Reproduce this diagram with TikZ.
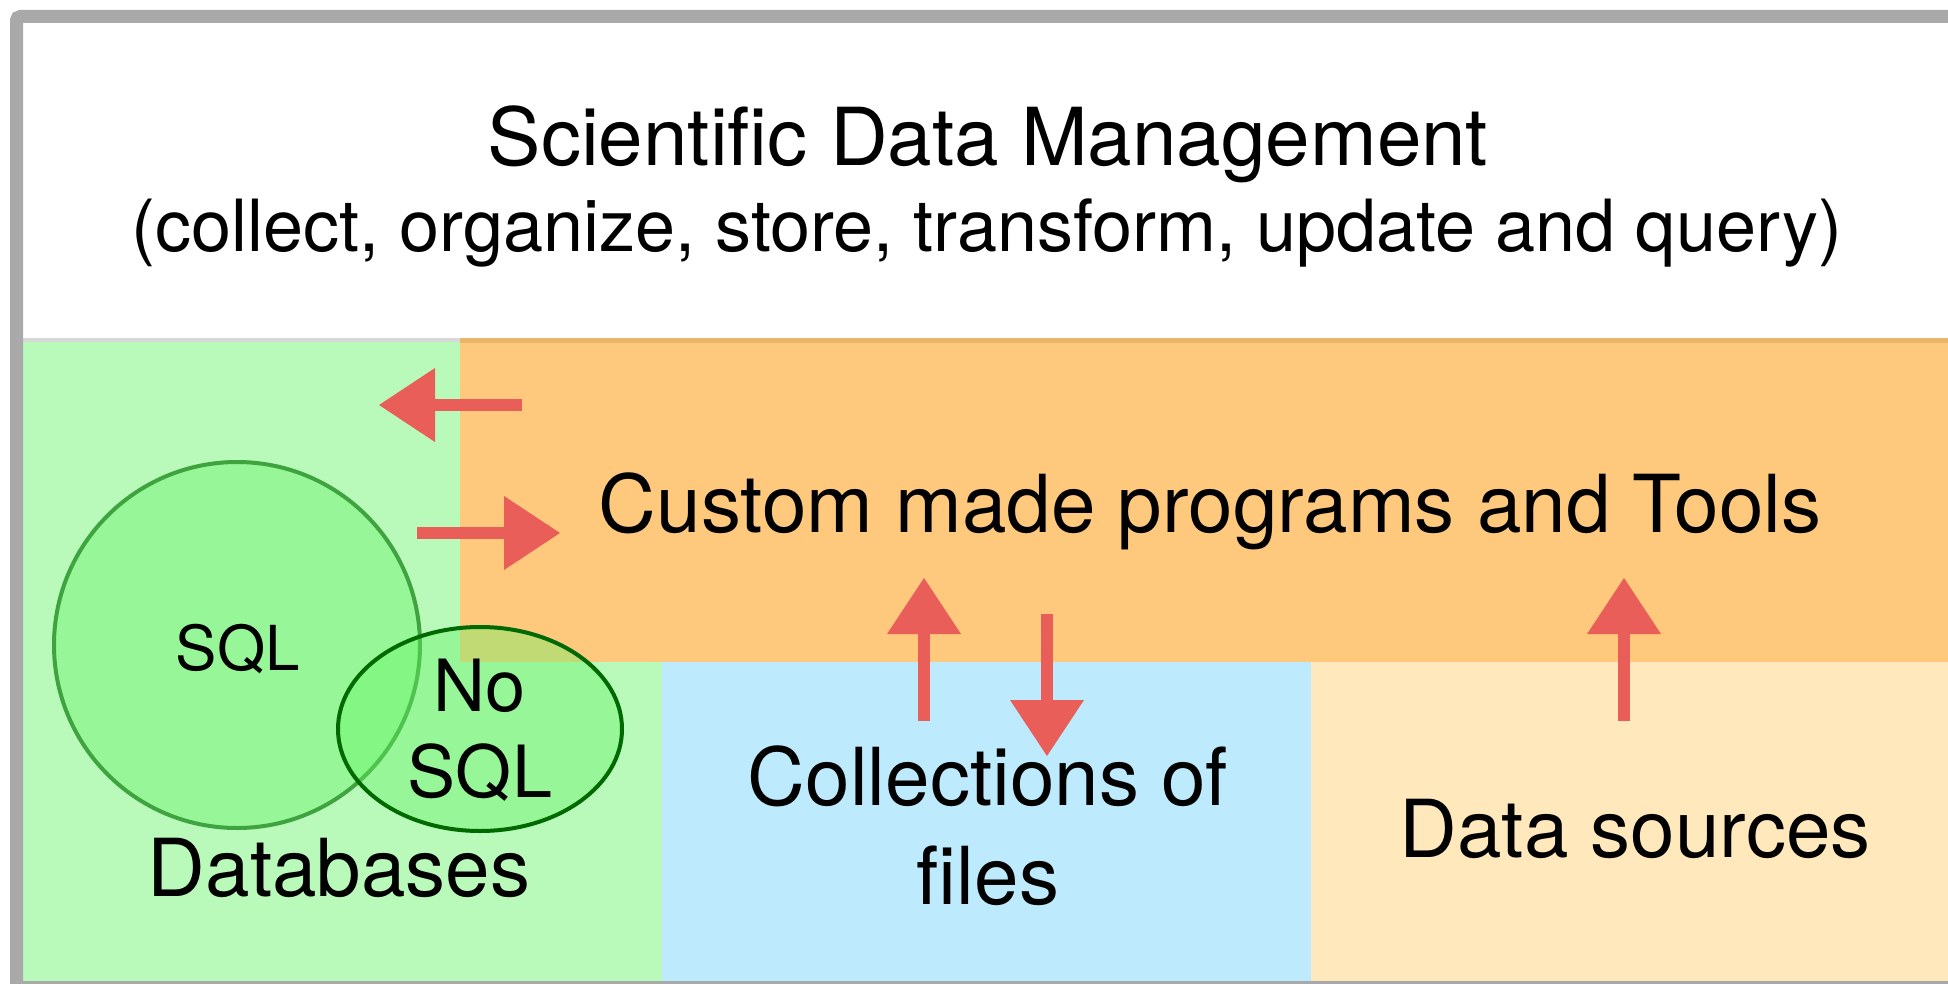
\documentclass[tikz,border=0pt]{standalone}
\usepackage{fontspec}
\setmainfont{TeX Gyre Heros}
\usetikzlibrary{arrows.meta,shapes.geometric}
\definecolor{bordergray}{HTML}{A9A9A9}
\definecolor{sepgray}{HTML}{D8D8D8}
\definecolor{dbgreen}{HTML}{B9F9BA}
\definecolor{progorange}{HTML}{FEC87D}
\definecolor{orangeedge}{HTML}{EBB46A}
\definecolor{filesblue}{HTML}{BDEBFD}
\definecolor{srcyellow}{HTML}{FEE8BC}
\definecolor{setfill}{HTML}{66F665}
\definecolor{sqlline}{HTML}{3FA43F}
\definecolor{nosqlline}{HTML}{006A00}
\definecolor{arrowred}{HTML}{EA5E5A}
\tikzset{
  bigtext/.style={anchor=base, inner sep=0pt, font=\fontsize{80}{96}\selectfont},
  subtext/.style={anchor=base, inner sep=0pt, font=\fontsize{72}{86}\selectfont},
  redarrow/.style={draw=arrowred, line width=12pt,
    -{Triangle[length=56pt,width=74pt,line width=0pt]}},
  setshape/.style={fill=setfill, fill opacity=0.4, inner sep=0pt}
}
\begin{document}
\begin{tikzpicture}[x=1pt,y=-1pt]
\useasboundingbox (0,0) rectangle (1948,984);
\clip (0,0) rectangle (1948,984);
\fill[white] (0,0) rectangle (1948,984);
% regions
\fill[dbgreen] (23,338) rectangle (662,984);
\fill[progorange] (460,338) rectangle (1948,662);
\fill[filesblue] (662,662) rectangle (1311,984);
\fill[srcyellow] (1311,662) rectangle (1948,984);
\draw[sepgray, line width=4pt] (23,340) -- (460,340);
\draw[orangeedge, line width=5pt] (460,340.5) -- (1948,340.5);
% outer frame
\draw[bordergray, line width=13pt, rounded corners=4pt] (16.5,16.5) rectangle (1990,987.5);
% sets
\node[setshape, circle, draw=sqlline, line width=4pt, minimum size=366pt] (sqlc) at (237,645) {};
\node[setshape, ellipse, draw=nosqlline, line width=4pt, minimum width=284pt, minimum height=204pt] (nosqle) at (480,729) {};
% texts
\node[bigtext] (title) at (988,166) {Scientific Data Management};
\node[subtext] (subtitle) at (987,252) {(collect, organize, store, transform, update and query)};
\node[bigtext] (tools) at (1210,532) {Custom made programs and Tools};
\node[anchor=base, inner sep=0pt, font=\fontsize{62}{74}\selectfont] (sql) at (238,670) {SQL};
\node[subtext] (no) at (480,711) {No};
\node[subtext] (nosql) at (480,797) {SQL};
\node[bigtext] (dbs) at (339,896) {Databases};
\node[bigtext] (coll1) at (988,805) {Collections of};
\node[bigtext] (coll2) at (988,904) {files};
\node[bigtext] (src) at (1635,857) {Data sources};
% arrows
\coordinate (a1s) at (522,405); \coordinate (a1e) at (379,405);
\coordinate (a2s) at (417,533); \coordinate (a2e) at (560,533);
\coordinate (a3s) at (924,721); \coordinate (a3e) at (924,578);
\coordinate (a4s) at (1047,614); \coordinate (a4e) at (1047,756);
\coordinate (a5s) at (1624,721); \coordinate (a5e) at (1624,578);
\draw[redarrow] (a1s) -- (a1e);
\draw[redarrow] (a2s) -- (a2e);
\draw[redarrow] (a3s) -- (a3e);
\draw[redarrow] (a4s) -- (a4e);
\draw[redarrow] (a5s) -- (a5e);
\end{tikzpicture}
\end{document}
